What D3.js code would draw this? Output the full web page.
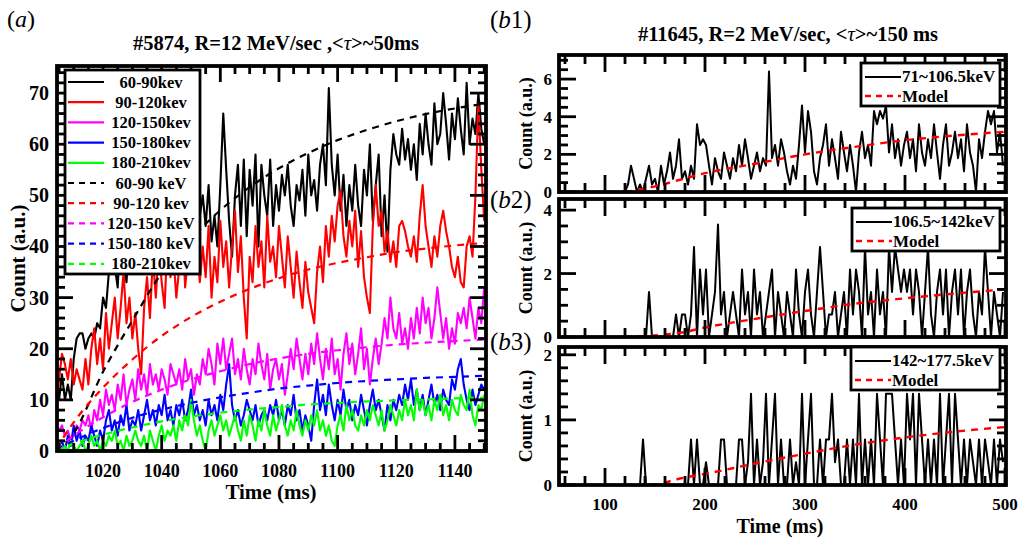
<!DOCTYPE html>
<html>
<head>
<meta charset="utf-8">
<script src="https://cdn.jsdelivr.net/npm/d3@7"></script>
<style>
  body { margin: 0; background: #fff; }
  svg text { font-family: "Liberation Serif", "Times New Roman", serif; font-weight: bold; fill: #000; }
</style>
</head>
<body>
<div id="chart"></div>
<script>
// ---------- panel (a) data, one sample per ms from 1004 to 1150 ----------
const timeA0 = 1004;
const labelsA = ["60-90kev", "90-120kev", "120-150kev", "150-180kev", "180-210kev"];
const labelsModelA = ["60-90 keV", "90-120 kev", "120-150 keV", "150-180 keV", "180-210kev"];
const colorsA = ["#000000", "#ff0000", "#ff00ff", "#0000ff", "#00ff00"];

const black6090 = [
  10,10,15,10,13,10,18,22,23,23,
  20,22,23,22,25,24,30,28,35,40,
  36,32,44,38,33,42,38,45,40,48,
  42,50,45,52,46,50,44,52,48,54,
  49,53,47,52,46,50,44,52,47,46,
  50,44,52,41,46,40,52,66,55,45,
  38,50,56,44,57,42,55,48,58,40,
  56,50,46,57,44,52,47,54,50,56,
  48,44,52,49,55,46,58,50,53,47,
  56,60,52,71,56,50,58,47,54,44,
  52,47,56,48,44,55,50,60,45,52,
  58,42,50,39,55,62,58,56,63,57,
  61,55,60,53,64,58,66,60,56,68,
  60,62,70,64,57,66,61,69,63,58,
  72,60,65,62,70,63,60];
const red90120 = [
  7,14,19,17,14,18,13,16,14,12,
  18,13,20,24,17,22,16,27,20,25,
  30,22,28,35,25,30,22,27,20,15,
  28,34,26,38,30,40,33,28,42,34,
  38,30,36,44,32,38,46,36,40,33,
  40,34,44,30,38,33,45,36,41,32,
  40,47,35,42,30,22,38,33,44,36,
  41,32,46,37,40,34,44,38,32,42,
  36,30,39,33,28,37,31,28,25,35,
  40,33,44,38,46,41,48,51,42,38,
  45,40,47,36,43,34,30,27,44,52,
  44,47,39,43,37,41,36,44,45,43,
  40,38,42,37,46,52,44,40,36,42,
  38,44,47,43,40,36,34,38,33,32,
  40,42,38,50,68,55,45];
const mag120150 = [
  5,4,5,3,4,2,3,5,4,6,
  5,7,4,8,6,10,7,12,9,11,
  8,13,10,15,9,12,14,10,16,12,
  15,11,17,13,15,12,16,14,11,17,
  15,13,16,12,18,14,16,11,15,13,
  18,15,20,17,13,21,17,22,16,19,
  22,15,18,14,20,16,13,18,15,21,
  17,14,19,12,16,18,14,17,11,15,
  20,16,22,18,14,19,15,21,17,23,
  18,14,20,16,22,15,18,12,19,23,
  17,21,15,19,24,16,20,13,18,22,
  17,21,26,22,30,24,22,27,21,24,
  20,26,22,28,23,30,25,28,22,26,
  32,27,22,26,20,24,21,27,25,28,
  24,30,26,22,28,25,32];
const blue150180 = [
  3,1,2,0,3,1,5,2,4,1,
  3,2,5,3,1,4,2,6,8,4,
  6,3,7,5,9,4,6,5,8,4,
  7,10,6,8,5,9,7,11,6,8,
  5,9,7,10,6,8,12,7,9,6,
  8,5,10,7,9,6,11,8,13,17,
  9,6,8,5,7,10,8,6,9,5,
  7,8,6,9,7,10,6,8,5,9,
  7,11,6,8,4,7,5,2,9,14,
  8,11,7,13,9,6,10,7,12,8,
  10,6,9,7,11,8,5,9,12,8,
  10,7,4,9,6,10,8,11,9,13,
  10,14,9,12,8,11,7,10,13,9,
  11,8,12,10,9,14,12,16,18,13,
  10,8,12,9,11,13,12];
const green180210 = [
  1,2,0,1,0,2,1,0,1,2,
  0,1,3,1,2,0,2,1,3,2,
  4,1,2,0,3,1,2,4,2,1,
  3,0,4,2,0,3,5,2,4,3,
  5,2,6,4,7,5,10,6,3,5,
  2,0,4,6,3,5,7,4,6,3,
  5,7,4,2,6,3,7,5,2,6,
  4,8,5,3,7,4,6,9,5,3,
  6,4,8,5,3,6,4,7,5,8,
  4,6,3,5,2,1,5,7,4,9,
  6,8,5,4,7,5,8,6,9,7,
  5,8,4,6,9,7,5,8,6,10,
  7,9,6,12,8,10,7,9,6,10,
  8,11,7,9,6,10,8,7,11,9,
  8,12,7,5,9,8,11];
const seriesA = [black6090, red90120, mag120150, blue150180, green180210];

// model curves of panel (a), read at a few times
const modelTimeA = [1004, 1010, 1020, 1030, 1040, 1050, 1060, 1070, 1080, 1090, 1100, 1110, 1120, 1130, 1140, 1150];
const modelBlack = [0, 3.5, 15.5, 25.5, 34.8, 41.5, 47.1, 51.6, 55.3, 58.3, 60.8, 62.8, 64.5, 65.9, 67.0, 67.9];
const modelRed   = [0.5, 5.6, 12.4, 17.9, 22.5, 26.2, 29.2, 31.7, 33.8, 35.5, 36.8, 37.9, 38.9, 39.6, 40.2, 40.7];
const modelMag   = [0.3, 3.0, 6.6, 9.6, 12.0, 14.0, 15.6, 17.0, 18.1, 19.0, 19.7, 20.3, 20.8, 21.2, 21.5, 21.8];
const modelBlue  = [0.2, 2.0, 4.5, 6.5, 8.1, 9.4, 10.5, 11.4, 12.2, 12.8, 13.3, 13.7, 14.0, 14.3, 14.5, 14.7];
const modelGreen = [0.1, 1.4, 3.2, 4.6, 5.8, 6.7, 7.5, 8.1, 8.6, 9.1, 9.4, 9.7, 9.9, 10.1, 10.3, 10.4];
const modelsA = [modelBlack, modelRed, modelMag, modelBlue, modelGreen];

const xTicksA = [1020, 1040, 1060, 1080, 1100, 1120, 1140];
const yTicksA = [0, 10, 20, 30, 40, 50, 60, 70];

// ---------- panels (b1)-(b3), one sample per 3 ms from 120 ms ----------
const timeB0 = 120, stepB = 3;
const labelsB = ["71~106.5keV", "106.5~142keV", "142~177.5keV"];
const countB1 = [
  0,0.4,1.4,0.7,0,0.4,0,0.7,1.4,0.4,
  0.7,0,1.4,0.4,1.1,2.1,0.7,1.4,2.8,0.7,
  1.1,0.4,1.4,0.7,3.6,2.5,2.8,2.5,1.4,0.4,
  1.8,1.1,0.7,2.1,1.4,0.7,1.8,1.1,2.5,1.4,
  2.8,1.8,0.7,1.4,2.1,1.1,1.8,1.4,6.4,1.8,
  2.5,1.4,2.8,2.1,1.1,0.4,1.4,0.7,2.5,4.6,
  2.1,4.3,3.2,1.1,0.4,1.8,2.5,3.6,1.4,2.8,
  1.8,0.7,3.2,2.1,1.1,2.5,1.4,0,2.1,3.2,
  1.8,2.5,1.4,4.3,3.6,4.3,3.9,4.6,2.1,3.6,
  1.8,2.8,1.4,2.5,3.2,1.8,2.8,1.1,3.6,2.1,
  1.4,2.8,1.8,3.6,2.1,0.7,2.5,3.6,1.4,2.1,
  3.2,1.8,2.8,1.1,3.6,2.1,1.4,0,2.8,1.8,
  3.2,4.3,3.6,4.3,2.1,3.2,1.4];
const countB2 = [
  0,0,0,0,0,0,0,0,1.42,0,
  0,0,0,0,0,0,0,0.71,0,0.71,
  0.71,0,0.71,2.84,0,2.13,0.71,2.13,0,0.71,
  1.42,3.55,0.71,1.42,0,0.71,1.42,0.71,0,2.13,
  0.71,1.42,0,2.13,0.71,1.42,0,0.71,1.42,2.13,
  0,1.42,0.71,0,1.42,0.71,0,2.13,0.71,0,
  1.42,2.13,0.71,0,1.42,2.84,1.42,0,0.71,0.71,
  1.42,0,0.71,1.42,0,2.13,0.71,2.13,1.42,0,
  2.84,0.71,1.42,0,2.13,0.71,1.42,0,2.84,1.42,
  2.84,2.13,1.42,2.13,1.42,2.13,0.71,2.13,1.42,0,
  1.42,2.84,0.71,0,1.42,2.13,0.71,2.13,0,1.42,
  2.13,0.71,2.13,0,1.42,2.13,0.71,0,1.42,0.71,
  2.84,1.42,0,1.42,0.71,0,1.42];
const countB3 = [
  0,0,0,0,0,0,0.7,0,0,0,
  0,0,0,0,0,0,0,0,0,0,
  0,0,0.7,0,0.7,0,0,0.35,0,0,
  0,0,0.7,0.7,0,0,0,0,0.7,0.7,
  0,0.35,1.4,0,0.7,0,0.35,1.4,0,0.7,
  1.4,0,0.7,0,0,0.7,0,0.35,0,1.4,
  0,0.7,1.4,0,0,0.7,0,0.7,0.7,1.4,
  0.35,0.7,0,0,0.7,0,0.7,0,1.4,0,
  0.7,0,0.7,0,1.4,0.7,0,1.4,1.4,1.4,
  0.7,0,0.7,0,1.4,0.7,1.4,0,1.4,0.7,
  0,0.7,0,0.7,0,1.4,0,0.7,1.4,0,
  1.4,0.7,0,0.7,0,0.7,0.35,0,0.7,0,
  0.7,0.35,0,0.7,0,0.7,0.35];
const countsB = [countB1, countB2, countB3];

const modelTimeB = [120, 150, 175, 200, 250, 300, 350, 400, 450, 500];
const modelB1 = [0, 0.3, 0.65, 1.0, 1.5, 2.0, 2.4, 2.75, 3.0, 3.2];
const modelB2 = [0, 0.05, 0.13, 0.3, 0.57, 0.82, 1.05, 1.22, 1.37, 1.5];
const modelB3 = [0, 0.01, 0.1, 0.17, 0.33, 0.48, 0.62, 0.73, 0.82, 0.89];
const modelsB = [modelB1, modelB2, modelB3];

const xTicksB = [100, 200, 300, 400, 500];
const yTicksB = [[0, 2, 4, 6], [0, 2, 4], [0, 1, 2]];
const yMaxB = [7.28, 4.35, 2.12];

// ---------- drawing ----------
const svg = d3.select("#chart").append("svg")
  .attr("width", 1025).attr("height", 540);

let clipId = 0;
function clipFor(f) {
  const id = "clip" + (clipId++);
  svg.append("clipPath").attr("id", id).append("rect")
    .attr("x", f.x0).attr("y", f.y0).attr("width", f.x1 - f.x0).attr("height", f.y1 - f.y0);
  return `url(#${id})`;
}

// frame with inward ticks on all four sides
function frame(g, f, x, y, o) {
  const tg = g.append("g").attr("stroke", "#000").attr("stroke-width", 2.8);
  const xt = o.xMajor.map(v => ({v, len: o.major})).concat(o.xMinor.map(v => ({v, len: o.minor})));
  const yt = o.yMajor.map(v => ({v, len: o.major})).concat(o.yMinor.map(v => ({v, len: o.minor})));
  [[f.y1, -1], [f.y0, 1]].forEach(([base, dir]) => {
    tg.selectAll(null).data(xt).join("line")
      .attr("x1", d => x(d.v)).attr("x2", d => x(d.v))
      .attr("y1", base).attr("y2", d => base + dir * d.len);
  });
  [[f.x0, 1], [f.x1, -1]].forEach(([base, dir]) => {
    tg.selectAll(null).data(yt).join("line")
      .attr("y1", d => y(d.v)).attr("y2", d => y(d.v))
      .attr("x1", base).attr("x2", d => base + dir * d.len);
  });
  g.append("rect")
    .attr("x", f.x0).attr("y", f.y0)
    .attr("width", f.x1 - f.x0).attr("height", f.y1 - f.y0)
    .attr("fill", "none").attr("stroke", "#000").attr("stroke-width", 3.8);

  if (o.xLabels) {
    g.selectAll(null).data(o.xMajor).join("text")
      .attr("x", d => x(d)).attr("y", o.xLabelY).attr("text-anchor", "middle")
      .style("font-size", o.xFont + "px").text(d => d);
  }
  g.selectAll(null).data(o.yMajor).join("text")
    .attr("x", f.x0 - o.yPad).attr("y", d => y(d)).attr("dy", "0.35em").attr("text-anchor", "end")
    .style("font-size", o.yFont + "px").text(d => d);
}

// ---- panel (a)
const fA = {x0: 57, x1: 486, y0: 66, y1: 451};
const xA = d3.scaleLinear().domain([1004.3, 1150.6]).range([fA.x0, fA.x1]);
const yA = d3.scaleLinear().domain([0, 75.3]).range([fA.y1, fA.y0]);
const gA = svg.append("g");
const plotA = gA.append("g").attr("clip-path", clipFor(fA));

const lineA = d3.line().x((d, i) => xA(timeA0 + i)).y(d => yA(d));
const modelLineA = d3.line().x((d, i) => xA(modelTimeA[i])).y(d => yA(d)).curve(d3.curveMonotoneX);

seriesA.forEach((s, k) => {
  plotA.append("path").datum(s)
    .attr("d", lineA).attr("fill", "none")
    .attr("stroke", colorsA[k]).attr("stroke-width", 2.1).attr("stroke-linejoin", "round");
});
modelsA.forEach((m, k) => {
  plotA.append("path").datum(m)
    .attr("d", modelLineA).attr("fill", "none")
    .attr("stroke", colorsA[k]).attr("stroke-width", 2.2).attr("stroke-dasharray", "7,6");
});

frame(gA, fA, xA, yA, {
  xMajor: xTicksA,
  xMinor: d3.range(1005, 1151, 5).filter(v => v % 20 !== 0),
  yMajor: yTicksA,
  yMinor: d3.range(2, 76, 2).filter(v => v % 10 !== 0),
  major: 16, minor: 8, xLabels: true, xLabelY: 477, yPad: 8, xFont: 18, yFont: 20
});

// legend of panel (a)
const legA = gA.append("g");
legA.append("rect").attr("x", 65).attr("y", 70).attr("width", 135).attr("height", 204)
  .attr("fill", "#fff").attr("stroke", "#000").attr("stroke-width", 2.8);
const legendRows = labelsA.map((l, k) => ({label: l, color: colorsA[k], dash: null}))
  .concat(labelsModelA.map((l, k) => ({label: l, color: colorsA[k], dash: "6,5"})));
legendRows.forEach((r, k) => {
  const yy = 82 + k * 20.2;
  legA.append("line").attr("x1", 68).attr("x2", 104).attr("y1", yy).attr("y2", yy)
    .attr("stroke", r.color).attr("stroke-width", 2.2).attr("stroke-dasharray", r.dash);
  legA.append("text").attr("x", 151).attr("y", yy + 5.5).attr("text-anchor", "middle")
    .style("font-size", "16.5px").text(r.label);
});

// titles and labels of panel (a)
const titleA = svg.append("text").attr("x", 276).attr("y", 50).attr("text-anchor", "middle").style("font-size", "20.5px");
titleA.append("tspan").text("#5874, R=12 MeV/sec ,<");
titleA.append("tspan").style("font-style", "italic").style("font-weight", "normal").text("τ");
titleA.append("tspan").text(">~50ms");

const tagA = svg.append("text").attr("x", 7).attr("y", 27).style("font-size", "24px").style("font-weight", "normal");
tagA.append("tspan").text("(");
tagA.append("tspan").style("font-style", "italic").text("a");
tagA.append("tspan").text(")");

svg.append("text").attr("transform", `translate(25,${(fA.y0 + fA.y1) / 2}) rotate(-90)`)
  .attr("text-anchor", "middle").style("font-size", "21px").text("Count (a.u.)");
svg.append("text").attr("x", 271).attr("y", 499).attr("text-anchor", "middle")
  .style("font-size", "21px").text("Time (ms)");

// ---- panels (b1)-(b3)
const framesB = [
  {x0: 559, x1: 1006, y0: 55, y1: 192},
  {x0: 559, x1: 1006, y0: 199, y1: 337},
  {x0: 559, x1: 1006, y0: 347, y1: 485}
];
const yMinorB = [
  [0.5, 1, 1.5, 2.5, 3, 3.5, 4.5, 5, 5.5, 6.5, 7],
  [0.5, 1, 1.5, 2.5, 3, 3.5],
  [0.2, 0.4, 0.6, 0.8, 1.2, 1.4, 1.6, 1.8]
];
const legendBoxB = [{x: 861, y: 63}, {x: 852, y: 208}, {x: 851, y: 347}];
const tagY = [28, 208, 350];
const xB = d3.scaleLinear().domain([54, 501]).range([559, 1006]);

framesB.forEach((f, p) => {
  const y = d3.scaleLinear().domain([0, yMaxB[p]]).range([f.y1, f.y0]);
  const g = svg.append("g");
  const plot = g.append("g").attr("clip-path", clipFor(f));

  plot.append("path").datum(countsB[p])
    .attr("d", d3.line().x((d, i) => xB(timeB0 + i * stepB)).y(d => y(d)))
    .attr("fill", "none").attr("stroke", "#000").attr("stroke-width", 2).attr("stroke-linejoin", "round");
  plot.append("path").datum(modelsB[p])
    .attr("d", d3.line().x((d, i) => xB(modelTimeB[i])).y(d => y(d)).curve(d3.curveMonotoneX))
    .attr("fill", "none").attr("stroke", "#ff0000").attr("stroke-width", 2.4).attr("stroke-dasharray", "7,6");

  frame(g, f, xB, y, {
    xMajor: xTicksB,
    xMinor: d3.range(60, 500, 20).filter(v => v % 100 !== 0),
    yMajor: yTicksB[p],
    yMinor: yMinorB[p],
    major: 17, minor: 9, xLabels: p === 2, xLabelY: 510, yPad: 7, xFont: 17, yFont: 17
  });

  // legend box
  const lb = legendBoxB[p];
  const leg = g.append("g");
  leg.append("rect").attr("x", lb.x).attr("y", lb.y).attr("width", 1000 - lb.x).attr("height", 43)
    .attr("fill", "#fff").attr("stroke", "#000").attr("stroke-width", 2.8);
  leg.append("line").attr("x1", lb.x + 4).attr("x2", lb.x + 40).attr("y1", lb.y + 14).attr("y2", lb.y + 14)
    .attr("stroke", "#000").attr("stroke-width", 2);
  leg.append("text").attr("x", lb.x + 41).attr("y", lb.y + 19).style("font-size", "17px").text(labelsB[p]);
  leg.append("line").attr("x1", lb.x + 4).attr("x2", lb.x + 40).attr("y1", lb.y + 33).attr("y2", lb.y + 33)
    .attr("stroke", "#ff0000").attr("stroke-width", 2.4).attr("stroke-dasharray", "6,5");
  leg.append("text").attr("x", lb.x + 41).attr("y", lb.y + 39).style("font-size", "17px").text("Model");

  // panel tag
  const tag = svg.append("text").attr("x", 490).attr("y", tagY[p]).style("font-size", "25px").style("font-weight", "normal");
  tag.append("tspan").text("(");
  tag.append("tspan").style("font-style", "italic").text("b");
  tag.append("tspan").text((p + 1) + ")");

  svg.append("text").attr("transform", `translate(532,${(f.y0 + f.y1) / 2}) rotate(-90)`)
    .attr("text-anchor", "middle").style("font-size", "18px").text("Count (a.u.)");
});

const titleB = svg.append("text").attr("x", 788).attr("y", 41).attr("text-anchor", "middle").style("font-size", "20.5px");
titleB.append("tspan").text("#11645, R=2 MeV/sec, <");
titleB.append("tspan").style("font-style", "italic").style("font-weight", "normal").text("τ");
titleB.append("tspan").text(">~150 ms");

svg.append("text").attr("x", 780).attr("y", 533).attr("text-anchor", "middle")
  .style("font-size", "20px").text("Time (ms)");
</script>
</body>
</html>
